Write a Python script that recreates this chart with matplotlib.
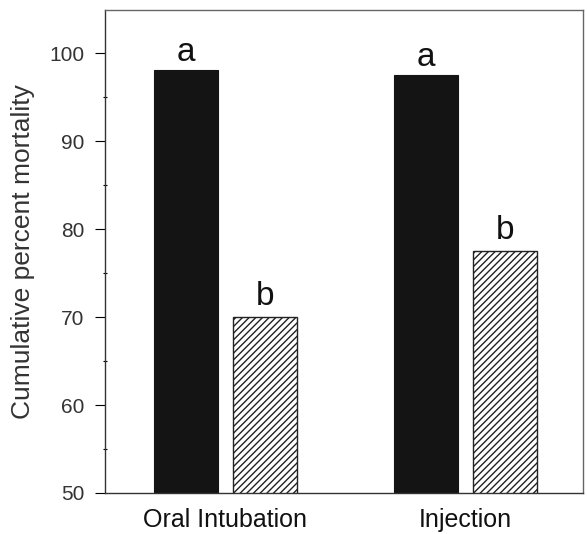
import matplotlib
matplotlib.use("Agg")
import matplotlib.pyplot as plt
import numpy as np

plt.rcParams['font.family'] = ['Liberation Sans', 'DejaVu Sans']
plt.rcParams['hatch.linewidth'] = 1.0

categories = ["Oral Intubation", "Injection"]
series_a = [98.1, 97.5]      # black bars
series_b = [70.0, 77.5]      # hatched bars
letters_a = ["a", "a"]
letters_b = ["b", "b"]
yticks = [50, 60, 70, 80, 90, 100]

fig = plt.figure(figsize=(5.87, 5.34), dpi=100)
ax = fig.add_axes([105/587, 1-493/534, (583-105)/587, (493-10)/534])

x = np.arange(len(categories))
w = 0.267
off = 0.165
ax.bar(x - off, series_a, width=w, bottom=0, color='#141414', edgecolor='#141414', linewidth=0.8, zorder=2)
ax.bar(x + off, series_b, width=w, bottom=0, color='white', edgecolor='#222222', hatch='/////', linewidth=1.0, zorder=2)

for i in range(len(categories)):
    ax.text(x[i] - off, series_a[i] + 1.0, letters_a[i], ha='center', va='baseline', fontsize=24, color='#111111')
    ax.text(x[i] + off, series_b[i] + 1.4, letters_b[i], ha='center', va='baseline', fontsize=24, color='#111111')

ax.set_ylim(50, 104.9)
ax.set_xlim(-0.502, 1.49)
ax.set_yticks(yticks)
ax.set_yticks([55, 65, 75, 85, 95], minor=True)
ax.set_xticks(x)
ax.set_xticklabels(categories, fontsize=18, color='#111111')
ax.tick_params(axis='x', length=0, pad=11)
ax.tick_params(axis='y', which='major', length=7, width=0.8, direction='out', labelsize=15, labelcolor='#333333', pad=8)
ax.tick_params(axis='y', which='minor', length=3, width=0.8, direction='inout')
ax.set_ylabel("Cumulative percent mortality", fontsize=19, color='#333333', labelpad=10)

for s in ['left', 'bottom']:
    ax.spines[s].set_color('#333333')
    ax.spines[s].set_linewidth(1.0)
for s in ['top', 'right']:
    ax.spines[s].set_color('#666666')
    ax.spines[s].set_linewidth(1.0)

fig.savefig("out.png", dpi=100)
